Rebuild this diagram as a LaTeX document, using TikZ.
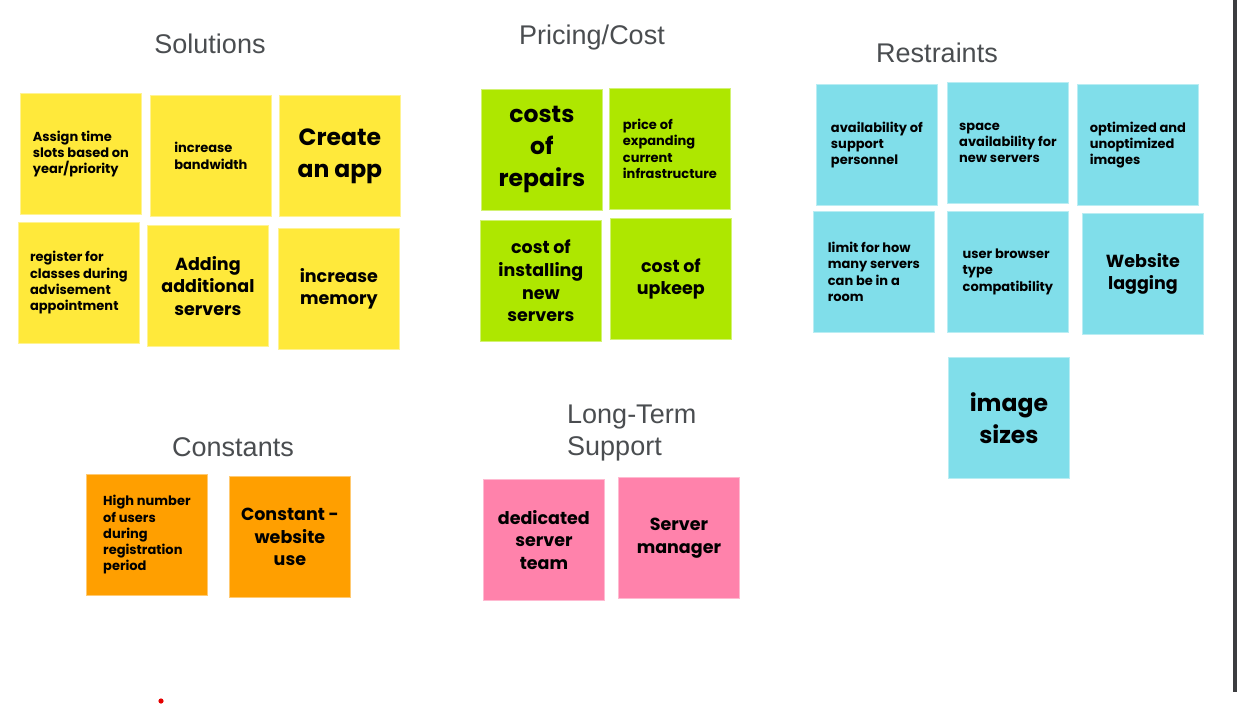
\documentclass[tikz,border=0pt]{standalone}
\usepackage{fontspec}
\setmainfont{Poppins}
\newfontfamily\headfont{Liberation Sans}
\definecolor{ynote}{HTML}{FFE93B}
\definecolor{gnote}{HTML}{AEE700}
\definecolor{cnote}{HTML}{80DEEA}
\definecolor{onote}{HTML}{FF9F00}
\definecolor{pnote}{HTML}{FF82AB}
\definecolor{headgray}{HTML}{4A4D50}
\definecolor{bargray}{HTML}{3C3D40}
\begin{document}
\begin{tikzpicture}[x=1pt,y=-1pt,
  note/.style={rectangle, anchor=north west, minimum width=121pt, minimum height=121pt, inner sep=0pt, text=black, line width=0.8pt},
  yel/.style={note, fill=ynote, draw=ynote!55!white},
  grn/.style={note, fill=gnote, draw=gnote!55!white},
  cya/.style={note, fill=cnote, draw=cnote!55!white},
  org/.style={note, fill=onote, draw=onote!55!white},
  pnk/.style={note, fill=pnote, draw=pnote!55!white},
  sm/.style={font=\bfseries\fontsize{13}{16.3}\selectfont, align=left},
  md/.style={font=\bfseries\fontsize{17.5}{22.8}\selectfont, align=center},
  lg/.style={font=\bfseries\fontsize{23.5}{32}\selectfont, align=center},
  head/.style={font=\headfont\fontsize{27}{32}\selectfont, text=headgray, inner sep=0pt, anchor=base}]
\useasboundingbox (0,0) rectangle (1237,704);
\fill[white] (0,0) rectangle (1237,704);
\fill[bargray] (1233,0) rectangle (1237,692);

% headings
\node[head] (hsol) at (210,53) {Solutions};
\node[head] (hpri) at (592,44) {Pricing/Cost};
\node[head] (hres) at (937,62) {Restraints};
\node[head] (hcon) at (233,456) {Constants};
\node[head, anchor=base west] (hlts1) at (567,423) {Long-Term};
\node[head, anchor=base west] (hlts2) at (567,455) {Support};

% Solutions
\node[yel, sm] (s1) at (20,93) {Assign time\\slots based on\\year/priority};
\node[yel, sm] (s2) at (150,95) {increase\\bandwidth};
\node[yel, lg] (s3) at (279,95) {Create\\an app};
\node[yel, sm] (s4) at (18,222) {register for\\classes during\\advisement\\appointment};
\node[yel, md] (s5) at (147,225) {Adding\\additional\\servers};
\node[yel, md] (s6) at (278,228) {increase\\memory};

% Pricing/Cost
\node[grn, lg] (p1) at (481,89) {costs\\of\\repairs};
\node[grn, sm] (p2) at (609,88) {price of\\expanding\\current\\infrastructure};
\node[grn, md] (p3) at (480,220) {cost of\\installing\\new\\servers};
\node[grn, md] (p4) at (610,218) {cost of\\upkeep};

% Restraints
\node[cya, sm] (r1) at (816,84) {availability of\\support\\personnel};
\node[cya, sm] (r2) at (947,82) {space\\availability for\\new servers};
\node[cya, sm] (r3) at (1077,84) {optimized and\\unoptimized\\images};
\node[cya, sm] (r4) at (813,211) {limit for how\\many servers\\can be in a\\room};
\node[cya, sm] (r5) at (947,211) {user browser\\type\\compatibility};
\node[cya, md] (r6) at (1082,213) {Website\\lagging};
\node[cya, lg] (r7) at (948,357) {image\\sizes};

% Constants
\node[org, sm] (c1) at (86,474) {High number\\of users\\during\\registration\\period};
\node[org, md] (c2) at (229,476) {Constant -\\website\\use};

% Long-Term Support
\node[pnk, md] (l1) at (483,479) {dedicated\\server\\team};
\node[pnk, md] (l2) at (618,477) {Server\\manager};

\fill[red!90!black] (161,701) circle (2.6pt);
\end{tikzpicture}
\end{document}
